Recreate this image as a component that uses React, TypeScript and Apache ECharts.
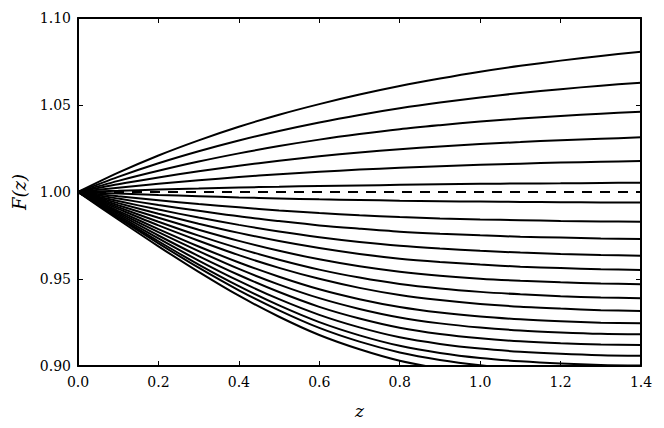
import React, { useEffect, useRef } from "react";
import * as echarts from "echarts";

const zValues = [0, 0.1, 0.2, 0.3, 0.4, 0.5, 0.6, 0.7, 0.8, 0.9, 1.0, 1.1, 1.2, 1.3, 1.4];

const upperCurves: number[][] = [
  [1, 1.0111, 1.021, 1.0297, 1.0375, 1.0444, 1.0505, 1.056, 1.0609, 1.0652, 1.0691, 1.0725, 1.0755, 1.0782, 1.0806],
  [1, 1.0087, 1.0165, 1.0234, 1.0296, 1.0351, 1.04, 1.0443, 1.0481, 1.0514, 1.0543, 1.0569, 1.0591, 1.0611, 1.0628],
  [1, 1.0064, 1.0122, 1.0175, 1.0222, 1.0264, 1.0301, 1.0333, 1.0361, 1.0384, 1.0405, 1.0422, 1.0437, 1.045, 1.0461],
  [1, 1.0044, 1.0083, 1.0119, 1.0151, 1.018, 1.0205, 1.0227, 1.0246, 1.0262, 1.0276, 1.0287, 1.0298, 1.0306, 1.0314],
  [1, 1.0025, 1.0047, 1.0067, 1.0086, 1.0102, 1.0116, 1.0129, 1.0139, 1.0148, 1.0156, 1.0163, 1.0169, 1.0174, 1.0178],
  [1, 1.0007, 1.0014, 1.002, 1.0026, 1.003, 1.0035, 1.0038, 1.0041, 1.0044, 1.0047, 1.0049, 1.005, 1.0052, 1.0053],
];

const lowerCurves: number[][] = [
  [1, 0.9991, 0.9983, 0.9976, 0.9969, 0.9963, 0.9958, 0.9954, 0.995, 0.9947, 0.9945, 0.9943, 0.9941, 0.994, 0.9939],
  [1, 0.9976, 0.9953, 0.9931, 0.9912, 0.9894, 0.9879, 0.9866, 0.9856, 0.9848, 0.9842, 0.9838, 0.9834, 0.9831, 0.9829],
  [1, 0.9962, 0.9925, 0.9892, 0.986, 0.9833, 0.9808, 0.9789, 0.9772, 0.976, 0.9751, 0.9743, 0.9738, 0.9733, 0.973],
  [1, 0.9948, 0.9899, 0.9853, 0.9811, 0.9773, 0.974, 0.9713, 0.9691, 0.9675, 0.9662, 0.9652, 0.9644, 0.9638, 0.9634],
  [1, 0.9936, 0.9875, 0.9818, 0.9765, 0.9718, 0.9678, 0.9644, 0.9617, 0.9598, 0.9583, 0.9571, 0.9563, 0.9556, 0.9552],
  [1, 0.9924, 0.9852, 0.9783, 0.9719, 0.9662, 0.9613, 0.9573, 0.9542, 0.9519, 0.9502, 0.949, 0.9481, 0.9474, 0.947],
  [1, 0.9913, 0.9829, 0.9749, 0.9676, 0.9611, 0.9554, 0.9508, 0.9471, 0.9445, 0.9426, 0.9412, 0.9401, 0.9394, 0.9389],
  [1, 0.9903, 0.9808, 0.972, 0.9637, 0.9564, 0.9501, 0.9449, 0.9408, 0.9379, 0.9357, 0.9341, 0.933, 0.9321, 0.9316],
  [1, 0.9892, 0.9787, 0.9687, 0.9595, 0.9513, 0.9441, 0.9384, 0.9339, 0.9307, 0.9284, 0.9268, 0.9257, 0.9249, 0.9245],
  [1, 0.9883, 0.9769, 0.966, 0.9558, 0.9468, 0.939, 0.9328, 0.9279, 0.9245, 0.9221, 0.9204, 0.9193, 0.9185, 0.9182],
  [1, 0.9874, 0.975, 0.9632, 0.9523, 0.9425, 0.934, 0.9273, 0.922, 0.9184, 0.9159, 0.9142, 0.9131, 0.9124, 0.9121],
  [1, 0.9865, 0.9733, 0.9606, 0.9489, 0.9384, 0.9294, 0.9222, 0.9165, 0.9127, 0.91, 0.9082, 0.907, 0.9062, 0.9059],
  [1, 0.9857, 0.9717, 0.9583, 0.9459, 0.9348, 0.9252, 0.9176, 0.9116, 0.9075, 0.9046, 0.9027, 0.9014, 0.9006, 0.9003],
  [1, 0.9851, 0.9705, 0.9565, 0.9435, 0.932, 0.9219, 0.914, 0.9078, 0.9035, 0.9005, 0.8985, 0.8972, 0.8963, 0.896],
  [1, 0.9842, 0.9688, 0.9541, 0.9404, 0.9283, 0.9178, 0.9096, 0.903, 0.8986, 0.8953, 0.893, 0.8915, 0.8905, 0.8902],
];

const referenceLine = [1, 1, 1, 1, 1, 1, 1, 1, 1, 1, 1, 1, 1, 1, 1];

const FONT = "DejaVu Serif";

export default function App() {
  const ref = useRef<HTMLDivElement>(null);

  useEffect(() => {
    if (!ref.current) return;
    const chart = echarts.init(ref.current, null, { renderer: "svg" });

    const curveSeries = [...upperCurves, ...lowerCurves].map((vals, i) => ({
      type: "line",
      name: "curve" + i,
      data: zValues.map((z, k) => [z, vals[k]]),
      smooth: 0.3,
      showSymbol: false,
      symbol: "none",
      clip: true,
      lineStyle: { color: "#000", width: 2 },
      z: 3,
    }));

    const dashed = {
      type: "line",
      name: "reference",
      data: zValues.map((z, k) => [z, referenceLine[k]]),
      showSymbol: false,
      symbol: "none",
      lineStyle: { color: "#000", width: 2, type: [10, 8] },
      z: 2,
    };

    const tickStyle = { show: true, inside: true, length: 5, lineStyle: { color: "#000", width: 1 } };

    chart.setOption({
      animation: false,
      backgroundColor: "#fff",
      grid: { left: 78, right: 23, top: 18, bottom: 62, containLabel: false },
      xAxis: [
        {
          type: "value",
          min: 0,
          max: 1.4,
          interval: 0.2,
          position: "bottom",
          axisLine: { show: true, lineStyle: { color: "#000", width: 2 } },
          axisTick: tickStyle,
          splitLine: { show: false },
          axisLabel: {
            show: true,
            margin: 9,
            color: "#000",
            fontFamily: FONT,
            fontSize: 14,
            showMinLabel: true,
            showMaxLabel: true,
            formatter: (v: number) => v.toFixed(1),
          },
          name: "z",
          nameLocation: "middle",
          nameGap: 36,
          nameTextStyle: { fontFamily: FONT, fontStyle: "italic", fontSize: 17, color: "#000" },
        },
        {
          type: "value",
          min: 0,
          max: 1.4,
          interval: 0.2,
          position: "top",
          axisLine: { show: true, onZero: false, lineStyle: { color: "#000", width: 2 } },
          axisTick: tickStyle,
          axisLabel: { show: false },
          splitLine: { show: false },
        },
      ],
      yAxis: [
        {
          type: "value",
          min: 0.9,
          max: 1.1,
          interval: 0.05,
          position: "left",
          axisLine: { show: true, onZero: false, lineStyle: { color: "#000", width: 2 } },
          axisTick: tickStyle,
          splitLine: { show: false },
          axisLabel: {
            show: true,
            margin: 7,
            color: "#000",
            fontFamily: FONT,
            fontSize: 14,
            showMinLabel: true,
            showMaxLabel: true,
            formatter: (v: number) => v.toFixed(2),
          },
          name: "F(z)",
          nameLocation: "middle",
          nameGap: 44,
          nameRotate: 90,
          nameTextStyle: { fontFamily: FONT, fontStyle: "italic", fontSize: 18, color: "#000" },
        },
        {
          type: "value",
          min: 0.9,
          max: 1.1,
          interval: 0.05,
          position: "right",
          axisLine: { show: true, onZero: false, lineStyle: { color: "#000", width: 2 } },
          axisTick: tickStyle,
          axisLabel: { show: false },
          splitLine: { show: false },
        },
      ],
      series: [dashed, ...curveSeries],
    });

    return () => chart.dispose();
  }, []);

  return (
    <div
      ref={ref}
      style={{ position: "fixed", left: 0, top: 0, width: 664, height: 428 }}
    />
  );
}
